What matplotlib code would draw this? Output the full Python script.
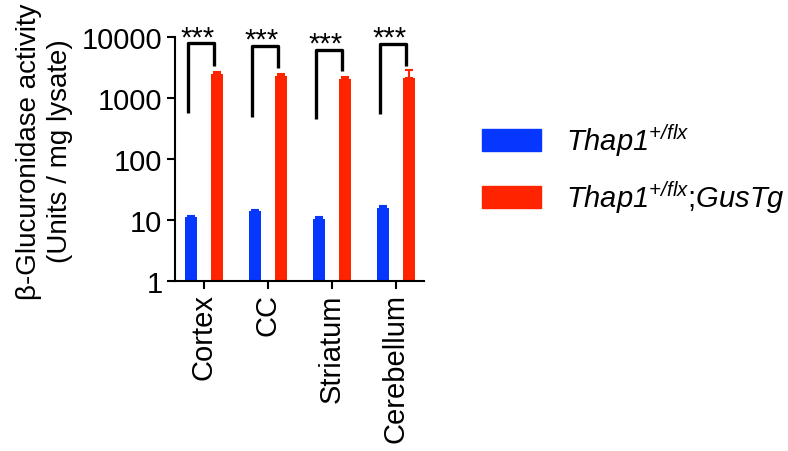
import numpy as np
import matplotlib
matplotlib.use("Agg")
from matplotlib import pyplot as plt
from matplotlib.patches import Patch

plt.rcParams["font.family"] = ["Liberation Sans", "DejaVu Sans"]
plt.rcParams["mathtext.fontset"] = "custom"
plt.rcParams["mathtext.rm"] = "Liberation Sans:italic"
plt.rcParams["mathtext.it"] = "Liberation Sans:italic"

# data
regions = ["Cortex", "CC", "Striatum", "Cerebellum"]
flx = [11.0, 14.0, 10.5, 16.0]
flx_err = [0.6, 0.7, 0.5, 0.8]
gus = [2450, 2270, 2050, 2100]
gus_err = [250, 200, 200, 800]

# significance brackets (left leg bottom, top, right leg bottom)
br_left = [570, 490, 455, 550]
br_top = [7900, 7100, 6100, 7700]
br_right = [3350, 3100, 2770, 3350]
stars = ["***", "***", "***", "***"]

blue = "#0537FF"
red = "#FF2400"
fs = 21

fig = plt.figure(figsize=(7.88, 4.52), dpi=100)
ax = fig.add_axes([175 / 788, 1 - 282 / 452, 249 / 788, 244 / 452])

x = np.arange(len(regions))
w = 0.19
ax.bar(x - 0.2, flx, width=w, color=blue, yerr=[[0] * 4, flx_err],
       error_kw=dict(ecolor=blue, capsize=3, elinewidth=1.5, capthick=1.5))
ax.bar(x + 0.21, gus, width=w, color=red, yerr=[[0] * 4, gus_err],
       error_kw=dict(ecolor=red, capsize=3, elinewidth=1.5, capthick=1.5))

for i in range(len(regions)):
    xl, xr = x[i] - 0.24, x[i] + 0.16
    ax.plot([xl, xl, xr, xr], [br_left[i], br_top[i], br_top[i], br_right[i]],
            color="black", lw=2.4, solid_capstyle="butt", clip_on=False)
    ax.text(x[i] - 0.1, br_top[i] * 0.93, stars[i], ha="center", va="baseline",
            fontsize=fs, clip_on=False)

ax.set_yscale("log")
ax.set_ylim(1, 10000)
ax.set_xlim(-0.45, 3.44)
ax.set_yticks([1, 10, 100, 1000, 10000])
ax.set_yticklabels(["1", "10", "100", "1000", "10000"])
ax.set_xticks(x)
ax.set_xticklabels(regions, rotation=90)
ax.tick_params(axis="both", labelsize=fs, width=1.5, length=6, pad=3)
ax.tick_params(axis="y", which="minor", width=1.2, length=3)

for s in ["top", "right"]:
    ax.spines[s].set_visible(False)
for s in ["left", "bottom"]:
    ax.spines[s].set_linewidth(1.5)

ax.set_ylabel("β-Glucuronidase activity\n(Units / mg lysate)", fontsize=20,
              linespacing=1.25)
ax.yaxis.set_label_coords(-0.41, 0.535)

handles = [Patch(color=blue), Patch(color=red)]
labels = [r"$Thap1^{+/flx}$",
          r"$Thap1^{+/flx}$;$GusTg$"]
fig.legend(handles, labels, loc="upper left", bbox_to_anchor=(470 / 788, 1 - 111 / 452),
           frameon=False, fontsize=fs, handlelength=2.05, handleheight=0.75,
           handletextpad=0.85, labelspacing=0.7, borderaxespad=0)

fig.savefig("out.png", dpi=100)
